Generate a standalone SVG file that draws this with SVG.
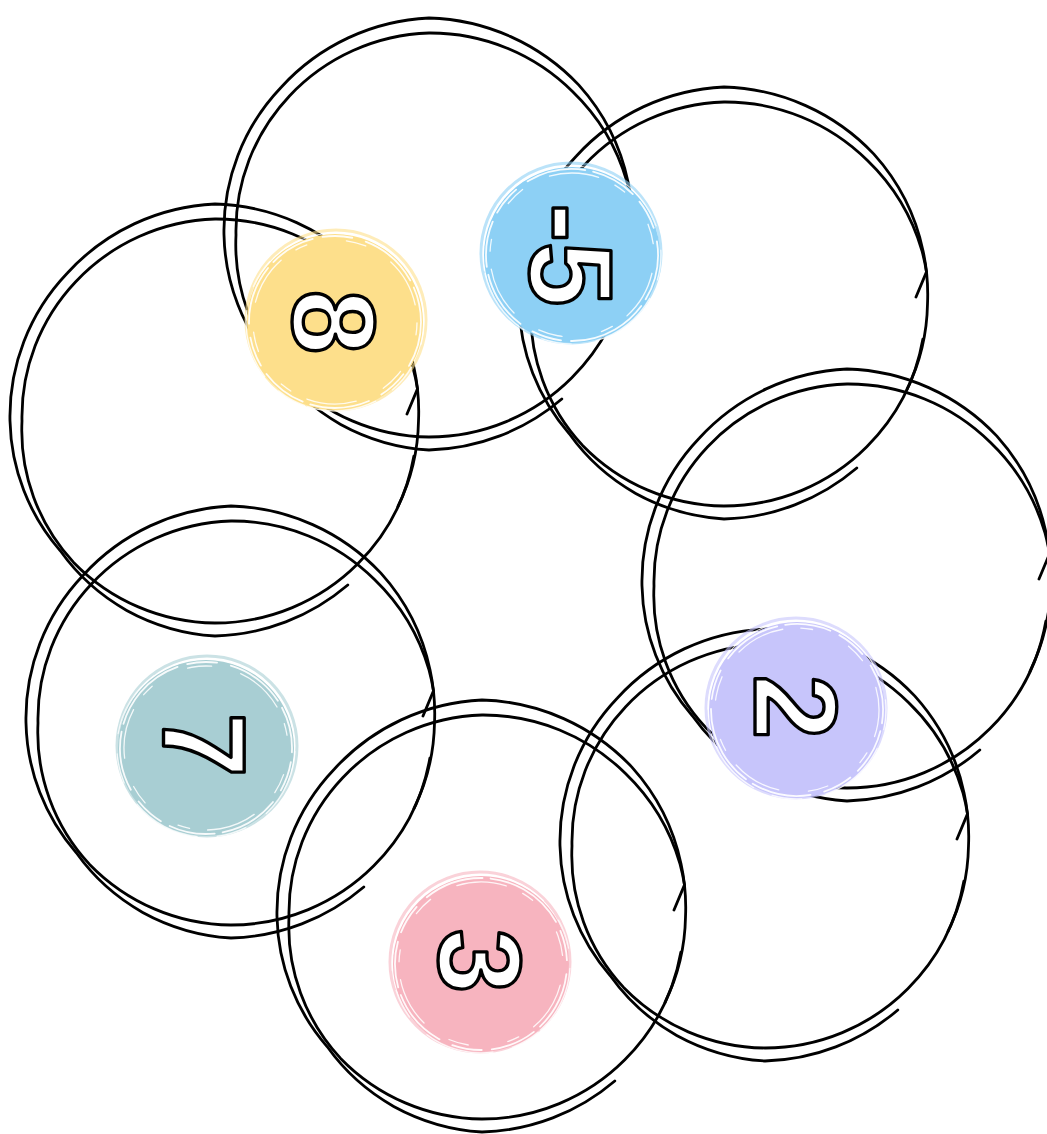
<svg xmlns="http://www.w3.org/2000/svg" xmlns:xlink="http://www.w3.org/1999/xlink" width="1047" height="1134" viewBox="0 0 1047 1134">
<style>
.ring{fill:none;stroke:#000;stroke-width:2.8;stroke-linecap:round;stroke-linejoin:round}
.num{font-family:"Liberation Sans",Arial,sans-serif;font-weight:700;font-size:116px;fill:#fff;stroke:#000;stroke-width:3.4;text-anchor:middle;stroke-linejoin:round}
.sk{fill:none;stroke:#fff;stroke-linecap:round}
</style>
<defs>
<g id="ring">
<path class="ring" d="M 132.8 164 A 213 213 0 0 1 0 215 A 211 211 0 0 1 -88.3 189.4 A 205 205 0 0 1 -154.7 129.8 A 204 204 0 0 1 -205 0 A 207 207 0 0 1 -147.8 -147.8 A 213 213 0 0 1 0 -217 A 214 214 0 0 1 149.9 -149.9 A 209 209 0 0 1 199 -53.3 A 205 205 0 0 1 203.5 0 A 202 202 0 0 1 183 85.3"/>
<path class="ring" d="M 198.9 35.1 A 202 202 0 0 1 142.8 142.8 A 202 202 0 0 1 0 202 A 200 200 0 0 1 -141.4 141.4 A 194 194 0 0 1 -193 0 A 196 196 0 0 1 -139.3 -139.3 A 200 200 0 0 1 0 -202 A 202 202 0 0 1 143.5 -143.5 A 204 204 0 0 1 198 -53.1 A 205 205 0 0 1 202.5 -32.1 L 192 -7"/>
</g>
<g id="sketch">
<circle class="sk" r="86" stroke-width="1.8" stroke-dasharray="46 10 30 14 60 8" opacity="0.9"/>
<circle class="sk" r="82" stroke-width="1.3" stroke-dasharray="20 30 50 18 12 40" opacity="0.85" transform="rotate(40)"/>
<circle class="sk" r="89" stroke-width="1.2" stroke-dasharray="30 20 70 25" opacity="0.8" transform="rotate(110)"/>
</g>
</defs>
<rect width="1047" height="1134" fill="#fff"/>
<g id="connectors"/>
<g id="ring-a" transform="translate(429,235)"><use href="#ring" xlink:href="#ring"/></g>
<g id="ring-b" transform="translate(215,421)"><use href="#ring" xlink:href="#ring"/></g>
<g id="ring-c" transform="translate(724,304)"><use href="#ring" xlink:href="#ring"/></g>
<g id="ring-d" transform="translate(847,586)"><use href="#ring" xlink:href="#ring"/></g>
<g id="ring-e" transform="translate(765,846)"><use href="#ring" xlink:href="#ring"/></g>
<g id="ring-f" transform="translate(482,917)"><use href="#ring" xlink:href="#ring"/></g>
<g id="ring-g" transform="translate(231,723)"><use href="#ring" xlink:href="#ring"/></g>
<g id="badge-8" transform="translate(335,322)">
<circle r="90" fill="none" stroke="#FDDF8B" stroke-width="3" opacity="0.6" transform="translate(1,-2)"/>
<circle r="88" fill="#FDDF8B"/>
<use href="#sketch" xlink:href="#sketch"/>
<text class="num" transform="rotate(90)" x="0" y="0" dy="0.36em">8</text>
</g>
<g id="badge-minus5" transform="translate(572,255)">
<circle r="90" fill="none" stroke="#8DD0F5" stroke-width="3" opacity="0.6" transform="translate(-1,-2)"/>
<circle r="88" fill="#8DD0F5"/>
<use href="#sketch" xlink:href="#sketch" transform="rotate(60)"/>
<text class="num" transform="rotate(90)" x="0" y="0" dy="0.36em">-5</text>
</g>
<g id="badge-2" transform="translate(797,710)">
<circle r="90" fill="none" stroke="#C7C5FB" stroke-width="3" opacity="0.6" transform="translate(-1,-2)"/>
<circle r="88" fill="#C7C5FB"/>
<use href="#sketch" xlink:href="#sketch" transform="rotate(150)"/>
<text class="num" transform="rotate(90)" x="-3" y="0" dy="0.36em">2</text>
</g>
<g id="badge-7" transform="translate(206,748)">
<circle r="90" fill="none" stroke="#A8CED3" stroke-width="3" opacity="0.6" transform="translate(1,-2)"/>
<circle r="88" fill="#A8CED3"/>
<use href="#sketch" xlink:href="#sketch" transform="rotate(220)"/>
<text class="num" transform="rotate(90)" x="-3" y="0" dy="0.36em">7</text>
</g>
<g id="badge-3" transform="translate(481,964)">
<circle r="90" fill="none" stroke="#F7B4BF" stroke-width="3" opacity="0.6" transform="translate(-1,-2)"/>
<circle r="88" fill="#F7B4BF"/>
<use href="#sketch" xlink:href="#sketch" transform="rotate(300)"/>
<text class="num" transform="rotate(90)" x="-3" y="0" dy="0.36em">3</text>
</g>
</svg>
